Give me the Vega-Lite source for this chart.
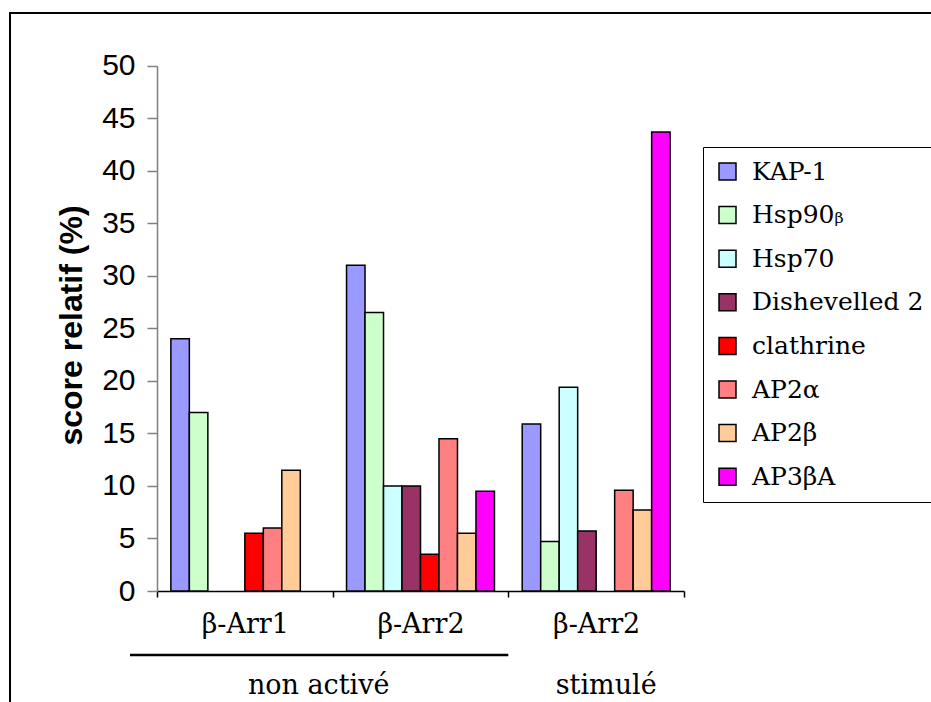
{
  "$schema": "https://vega.github.io/schema/vega-lite/v6.json",
  "autosize": {"type": "none"},
  "padding": {"left": 10, "top": 13, "right": 0, "bottom": 0},
  "width": 921,
  "height": 689,
  "background": "white",
  "config": {
    "view": {"stroke": "#000000", "strokeWidth": 2, "strokeDash": [921, 1610, 689]}
  },
  "data": {
    "values": [
      {"groupe": "β-Arr1|non activé", "proteine": "KAP-1", "score": 24.0},
      {"groupe": "β-Arr1|non activé", "proteine": "Hsp90ᵦ", "score": 17.0},
      {"groupe": "β-Arr1|non activé", "proteine": "clathrine", "score": 5.5},
      {"groupe": "β-Arr1|non activé", "proteine": "AP2α", "score": 6.0},
      {"groupe": "β-Arr1|non activé", "proteine": "AP2β", "score": 11.5},
      {"groupe": "β-Arr2|non activé", "proteine": "KAP-1", "score": 31.0},
      {"groupe": "β-Arr2|non activé", "proteine": "Hsp90ᵦ", "score": 26.5},
      {"groupe": "β-Arr2|non activé", "proteine": "Hsp70", "score": 10.0},
      {"groupe": "β-Arr2|non activé", "proteine": "Dishevelled 2", "score": 10.0},
      {"groupe": "β-Arr2|non activé", "proteine": "clathrine", "score": 3.5},
      {"groupe": "β-Arr2|non activé", "proteine": "AP2α", "score": 14.5},
      {"groupe": "β-Arr2|non activé", "proteine": "AP2β", "score": 5.5},
      {"groupe": "β-Arr2|non activé", "proteine": "AP3βA", "score": 9.5},
      {"groupe": "β-Arr2|stimulé", "proteine": "KAP-1", "score": 15.9},
      {"groupe": "β-Arr2|stimulé", "proteine": "Hsp90ᵦ", "score": 4.7},
      {"groupe": "β-Arr2|stimulé", "proteine": "Hsp70", "score": 19.4},
      {"groupe": "β-Arr2|stimulé", "proteine": "Dishevelled 2", "score": 5.7},
      {"groupe": "β-Arr2|stimulé", "proteine": "AP2α", "score": 9.6},
      {"groupe": "β-Arr2|stimulé", "proteine": "AP2β", "score": 7.7},
      {"groupe": "β-Arr2|stimulé", "proteine": "AP3βA", "score": 43.7}
    ]
  },
  "layer": [
    {
      "mark": {"type": "bar", "stroke": "#000000", "strokeWidth": 1.5},
      "encoding": {
        "x": {
          "field": "groupe",
          "type": "nominal",
          "sort": ["β-Arr1|non activé", "β-Arr2|non activé", "β-Arr2|stimulé"],
          "scale": {"domain": ["β-Arr1|non activé", "β-Arr2|non activé", "β-Arr2|stimulé"], "range": [147, 674], "paddingInner": 0, "paddingOuter": 0},
          "axis": {
            "title": null,
            "offset": -111,
            "labelExpr": "split(datum.label, '|')[0]",
            "labelFont": "DejaVu Serif",
            "labelFontSize": 27,
            "labelColor": "#000000",
            "labelAngle": 0,
            "labelPadding": 14,
            "domainColor": "#000000",
            "domainWidth": 1.5,
            "tickColor": "#000000",
            "tickWidth": 1.5,
            "tickSize": 6,
            "tickBand": "extent",
            "grid": false
          }
        },
        "xOffset": {
          "field": "proteine",
          "type": "nominal",
          "scale": {"domain": ["KAP-1", "Hsp90ᵦ", "Hsp70", "Dishevelled 2", "clathrine", "AP2α", "AP2β", "AP3βA"], "paddingInner": 0, "paddingOuter": 0.75}
        },
        "y": {
          "field": "score",
          "type": "quantitative",
          "scale": {"domain": [0, 50], "range": [578, 52.7], "nice": false},
          "axis": {
            "title": "score relatif (%)",
            "offset": -147,
            "values": [0, 5, 10, 15, 20, 25, 30, 35, 40, 45, 50],
            "grid": false,
            "labelFont": "Liberation Sans",
            "labelFontSize": 30,
            "labelColor": "#000000",
            "labelPadding": 12,
            "domainColor": "#808080",
            "domainWidth": 1.5,
            "tickColor": "#808080",
            "tickWidth": 1.5,
            "tickSize": 10,
            "titleFont": "Liberation Sans",
            "titleFontSize": 32,
            "titleFontWeight": "bold",
            "titleColor": "#000000",
            "titlePadding": 13,
            "titleY": 312,
            "titleAnchor": null
          }
        },
        "color": {
          "field": "proteine",
          "type": "nominal",
          "scale": {
            "domain": ["KAP-1", "Hsp90ᵦ", "Hsp70", "Dishevelled 2", "clathrine", "AP2α", "AP2β", "AP3βA"],
            "range": ["#9999FF", "#CCFFCC", "#CCFFFF", "#993366", "#FF0000", "#FF8080", "#FFCC99", "#FF00FF"]
          },
          "legend": {
            "title": null,
            "orient": "none",
            "legendX": 693,
            "legendY": 134,
            "strokeColor": "#000000",
            "padding": 12,
            "symbolType": "square",
            "symbolSize": 289,
            "symbolStrokeColor": "#000000",
            "symbolStrokeWidth": 1.5,
            "symbolOpacity": 1,
            "labelFont": "DejaVu Serif",
            "labelFontSize": 25,
            "labelColor": "#000000",
            "labelOffset": 12,
            "rowPadding": 17.6,
            "labelLimit": 400
          }
        }
      }
    },
    {
      "data": {"values": [{"condition": "non activé"}]},
      "mark": {"type": "text", "font": "DejaVu Serif", "fontSize": 27, "color": "#000000", "baseline": "middle", "align": "center", "dx": -14},
      "encoding": {
        "x": {"datum": "β-Arr2|non activé", "type": "nominal", "bandPosition": 0},
        "y": {"datum": -9.0, "type": "quantitative"},
        "text": {"field": "condition"}
      }
    },
    {
      "data": {"values": [{"condition": "stimulé"}]},
      "mark": {"type": "text", "font": "DejaVu Serif", "fontSize": 27, "color": "#000000", "baseline": "middle", "align": "center", "dx": 10},
      "encoding": {
        "x": {"datum": "β-Arr2|stimulé", "type": "nominal", "bandPosition": 0.5},
        "y": {"datum": -9.0, "type": "quantitative"},
        "text": {"field": "condition"}
      }
    },
    {
      "data": {"values": [{"condition": "non activé"}]},
      "mark": {"type": "rule", "stroke": "#000000", "strokeWidth": 2.5, "xOffset": -27},
      "encoding": {
        "x": {"datum": "β-Arr1|non activé", "type": "nominal", "bandPosition": 0},
        "x2": {"datum": "β-Arr2|stimulé", "bandPosition": 0},
        "y": {"datum": -6.1, "type": "quantitative"}
      }
    }
  ]
}
